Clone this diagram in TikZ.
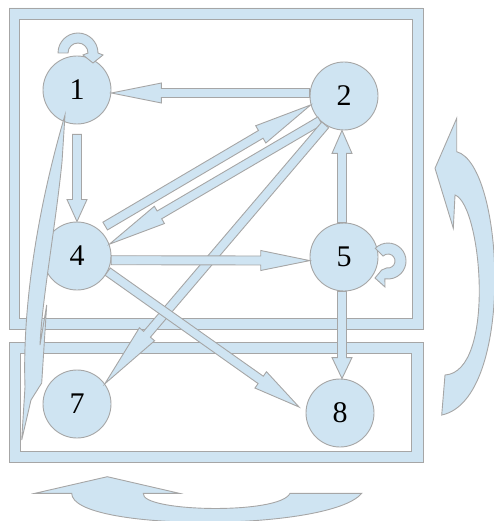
\documentclass[tikz,border=0pt]{standalone}
\usepackage{fontspec}
\setmainfont{Liberation Serif}
\usetikzlibrary{calc}
\definecolor{blkfill}{HTML}{CFE4F2}
\definecolor{blkline}{HTML}{A6A6A6}
\tikzset{
  blk/.style={fill=blkfill, draw=blkline, line width=0.9pt},
  vtx/.style={circle, blk, minimum size=68pt, inner sep=0pt, font=\fontsize{30}{36}\selectfont},
}
% straight block arrow: [head length]{start}{tip}
\newcommand{\blkarrow}[3][50]{%
  \coordinate (ta) at (#2);
  \coordinate (tb) at (#3);
  \coordinate (th) at ($(tb)!#1pt!(ta)$);
  \filldraw[blk] ($(ta)!4.5pt!90:(tb)$) -- ($(th)!4.5pt!90:(tb)$) -- ($(th)!10pt!90:(tb)$) -- (tb)
    -- ($(th)!10pt!-90:(tb)$) -- ($(th)!4.5pt!-90:(tb)$) -- ($(ta)!4.5pt!-90:(tb)$) -- cycle;}

\begin{document}
\begin{tikzpicture}[x=1pt,y=-1pt]
\useasboundingbox (0,0) rectangle (494,521);
\clip (0,0) rectangle (494,521);
\filldraw[blk,even odd rule] (9,8) rectangle (423,329) (19,19) rectangle (412,318);
\filldraw[blk,even odd rule] (9,342) rectangle (423,462) (20,353) rectangle (411,451);

\node[vtx] (n1) at (77,90) {1};
\node[vtx] (n2) at (344,96) {2};
\node[vtx] (n4) at (77,256) {4};
\node[vtx] (n5) at (344,257) {5};
\node[vtx] (n7) at (77,404) {7};
\node[vtx] (n8) at (340,413) {8};

\blkarrow[50]{n2.175}{n1.-5}
\blkarrow[22]{$(n1.south)+(0,10)$}{n4.north}
\blkarrow[58]{$(n4.50)!7pt!(n2.195)$}{n2.195}
\blkarrow[58]{n2.226}{n4.20}
\blkarrow[65]{n2.237}{n7.36}
\blkarrow[49]{n4.-7}{n5.186}
\blkarrow[47]{n4.-27}{$(n8.170)+(-7,0)$}
\blkarrow[23]{$(n5.north)+(-2,0)$}{$(n2.south)+(-2,0)$}
\blkarrow[21]{$(n5.south)+(-2,0)$}{$(n8.north)+(2,0)$}

\begin{scope}[shift={(n1)}]
\filldraw[blk] (-19,-37) arc[start angle=180, end angle=360, radius=20] -- (26,-35) -- (16,-27) -- (6,-35)
  -- (11,-37) arc[start angle=360, end angle=180, radius=10] -- cycle;
\end{scope}
\filldraw[blk] (375.3,248.3) arc[start angle=225, end angle=460, radius=18] -- (385,287) -- (375,278) -- (381.7,270)
  -- ($(388,261)+(100:7)$) arc[start angle=460, end angle=225, radius=7] -- cycle;

\filldraw[blk] (65,115) -- (62,162) .. controls (55,230) and (42,300) .. (40,345) -- (46.7,305) -- (41.7,383)
  -- (31,400) -- (21.7,440) -- (25,387) .. controls (22,300) and (40,200) .. (65,115) -- cycle;

\filldraw[blk] (456.7,118.3) -- (435,168.3) -- (453.3,228.3) -- (455,195) .. controls (482,205) and (496,372) .. (445,375)
  -- (441.7,415) .. controls (515,400) and (505,165) .. (456.7,151.7) -- cycle;
\filldraw[blk] (107.3,476.7) -- (35,493.3) -- (71.7,493.3) .. controls (71.7,532) and (330,532) .. (361.7,493.3)
  -- (290,493.3) .. controls (280,515) and (140,512) .. (143.3,493.3) -- (179.3,493.3) -- cycle;
\end{tikzpicture}
\end{document}
